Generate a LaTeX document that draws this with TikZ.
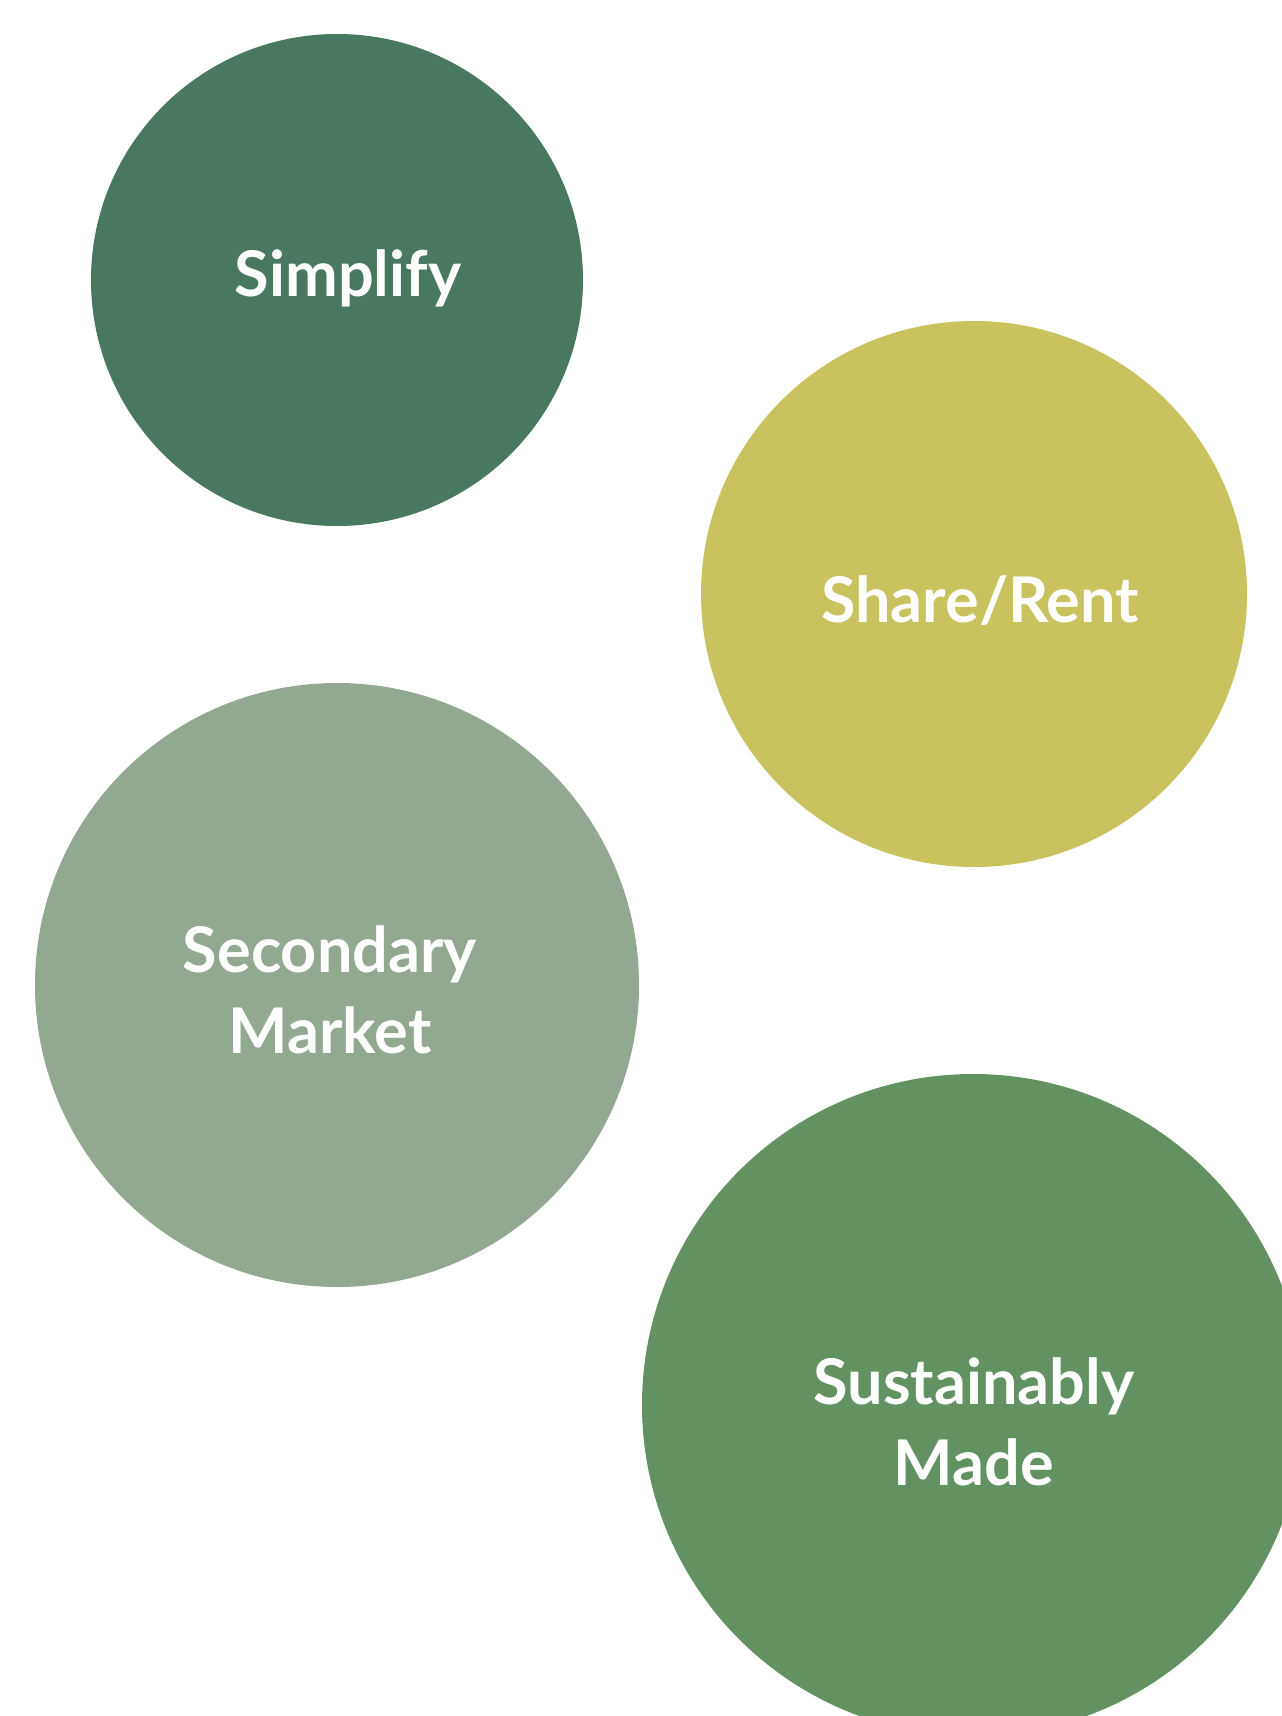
\documentclass[tikz,border=0pt]{standalone}
\usepackage{fontspec}
\setmainfont{Lato}

\definecolor{pine}{RGB}{72,120,96}
\definecolor{olive}{RGB}{200,195,95}
\definecolor{sage}{RGB}{146,168,144}
\definecolor{fern}{RGB}{98,146,98}

\tikzset{
  word/.style={text=white, font=\bfseries\fontsize{63}{81}\selectfont, align=center, anchor=base}
}

\begin{document}
\begin{tikzpicture}[x=1pt, y=-1pt]
    \useasboundingbox (0,0) rectangle (1282,1716);
    \clip (0,0) rectangle (1282,1716);

    \fill [pine]  (337,280)  circle (246);
    \fill [olive] (974,594)  circle (273);
    \fill [sage]  (337,985)  circle (302);
    \fill [fern]  (973,1405) circle (331);

    \node [word] (simplify) at (348,296) {Simplify};
    \node [word] (share) at (980,622) {Share/Rent};
    \node [word] (secondary) at (330,1053) {Secondary\\Market};
    \node [word] (sustainable) at (974,1485) {Sustainably\\Made};
\end{tikzpicture}
\end{document}
